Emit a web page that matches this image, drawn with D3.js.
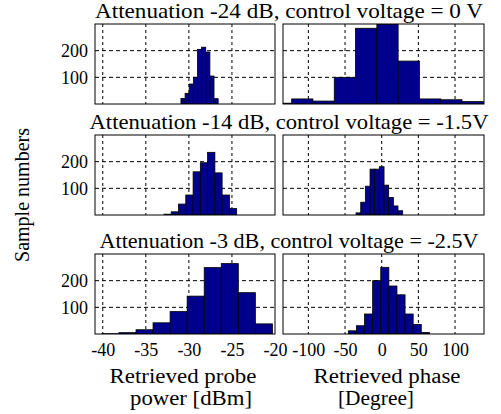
<!DOCTYPE html>
<html>
<head>
<meta charset="utf-8">
<script src="https://cdn.jsdelivr.net/npm/d3@7"></script>
</head>
<body style="margin:0">
<script>
// Histogram data: bin edges and counts per panel
const titles = [
    "Attenuation -24 dB, control voltage = 0 V",
    "Attenuation -14 dB, control voltage = -1.5V",
    "Attenuation -3 dB, control voltage = -2.5V"
];

const powerEdges1 = [-30.92, -30.44, -29.96, -29.48, -29.00, -28.52, -28.04, -27.56, -27.08, -26.60];
const powerCounts1 = [21, 40, 75, 100, 205, 213, 195, 105, 20];
const phaseEdges1 = [-151.8, -122.8, -93.8, -64.7, -35.7, -6.6, 22.4, 51.4, 80.5, 109.5, 138.6];
const phaseCounts1 = [3, 19, 11, 100, 284, 300, 161, 19, 16, 9];

const powerEdges2 = [-32.89, -32.05, -31.20, -30.36, -29.51, -28.67, -27.83, -26.98, -26.14, -25.29, -24.45];
const powerCounts2 = [3, 12, 41, 75, 162, 196, 235, 158, 75, 24];
const phaseEdges2 = [-35.0, -28.6, -22.3, -15.9, -9.6, -3.2, 3.2, 9.5, 15.9, 22.2, 28.6];
const phaseCounts2 = [8, 48, 108, 172, 172, 181, 112, 66, 34, 16];

const powerEdges3 = [-40.1, -38.12, -36.14, -34.16, -32.18, -30.2, -28.22, -26.24, -24.26, -22.28, -20.3];
const powerCounts3 = [1, 5, 16, 42, 84, 142, 249, 264, 155, 38];
const phaseEdges3 = [-45.5, -34.45, -23.4, -12.35, -1.3, 9.75, 20.8, 31.85, 42.9, 53.95, 65.0];
const phaseCounts3 = [12, 31, 75, 200, 250, 180, 147, 75, 36, 6];

const powerTicks = [-40, -35, -30, -25, -20];
const phaseTicks = [-100, -50, 0, 50, 100];
const countTicks = [100, 200];

const rows = [
    {power: [powerEdges1, powerCounts1], phase: [phaseEdges1, phaseCounts1]},
    {power: [powerEdges2, powerCounts2], phase: [phaseEdges2, phaseCounts2]},
    {power: [powerEdges3, powerCounts3], phase: [phaseEdges3, phaseCounts3]}
];

// Layout
const width = 501, height = 414;
const rowTops = [24, 135, 254];
const panelH = 80;
const barColor = "#00008c";
const serif = "Liberation Serif";

const svg = d3.select("body").append("svg")
    .attr("width", width)
    .attr("height", height);

const xPower = d3.scaleLinear().domain([-40.9, -20]).range([95, 275]);
const xPhase = d3.scaleLinear().domain([-134.6, 139.5]).range([283, 484]);

function drawPanel(g, x, edges, counts, ticks, y, id) {
    const [x0, x1] = x.range();
    const [yb, yt] = y.range();

    g.append("clipPath").attr("id", id)
      .append("rect")
        .attr("x", x0).attr("y", yt)
        .attr("width", x1 - x0).attr("height", yb - yt);

    // grid
    g.selectAll(".vgrid")
        .data(ticks.filter(t => x(t) > x0 + 1 && x(t) < x1 - 1))
        .enter().append("line")
        .attr("x1", d => x(d)).attr("x2", d => x(d))
        .attr("y1", yt).attr("y2", yb)
        .attr("stroke", "#000").attr("stroke-width", 1)
        .attr("stroke-dasharray", "3,3");

    g.selectAll(".hgrid")
        .data(countTicks)
        .enter().append("line")
        .attr("x1", x0).attr("x2", x1)
        .attr("y1", d => y(d)).attr("y2", d => y(d))
        .attr("stroke", "#000").attr("stroke-width", 1)
        .attr("stroke-dasharray", "4,3");

    // bars
    const bins = counts.map((c, i) => ({a: edges[i], b: edges[i + 1], n: c}));
    g.append("g").attr("clip-path", "url(#" + id + ")")
      .selectAll("rect")
        .data(bins)
        .enter().append("rect")
        .attr("x", d => x(d.a))
        .attr("width", d => x(d.b) - x(d.a))
        .attr("y", d => y(d.n))
        .attr("height", d => y(0) - y(d.n))
        .attr("fill", barColor)
        .attr("stroke", "#000")
        .attr("stroke-width", 0.8);

    // frame
    g.append("rect")
        .attr("x", x0).attr("y", yt)
        .attr("width", x1 - x0).attr("height", yb - yt)
        .attr("fill", "none")
        .attr("stroke", "#000").attr("stroke-width", 1);
}

rows.forEach(function(r, i) {
    const top = rowTops[i];
    const y = d3.scaleLinear().domain([0, 300]).range([top + panelH, top]);
    const g = svg.append("g");

    drawPanel(g, xPower, r.power[0], r.power[1], powerTicks, y, "clipL" + i);
    drawPanel(g, xPhase, r.phase[0], r.phase[1], phaseTicks, y, "clipR" + i);

    // y axis labels
    g.append("g")
        .attr("transform", "translate(95,0)")
        .call(d3.axisLeft(y).tickValues(countTicks).tickSize(0).tickPadding(7))
        .call(s => s.select(".domain").remove())
        .selectAll("text")
        .attr("font-size", 18);

    // panel title
    svg.append("text")
        .attr("x", 289).attr("y", top - 6)
        .attr("text-anchor", "middle")
        .attr("font-size", 21)
        .attr("textLength", [388, 399, 379][i])
        .attr("lengthAdjust", "spacingAndGlyphs")
        .text(titles[i]);
});

// x axes under the last row, plain hyphen for the minus sign
const bottom = rowTops[2] + panelH;
[[xPower, powerTicks], [xPhase, phaseTicks]].forEach(function(p) {
    svg.append("g")
        .attr("transform", "translate(0," + bottom + ")")
        .call(d3.axisBottom(p[0]).tickValues(p[1]).tickSize(0).tickPadding(9).tickFormat(d => String(d)))
        .call(s => s.select(".domain").remove())
        .selectAll("text")
        .attr("font-size", 18);
});

// axis titles
const axisTitles = [
    [183, 383, "Retrieved probe", 147],
    [191, 405, "power [dBm]", 122],
    [387, 383, "Retrieved phase", 147],
    [376, 405, "[Degree]", 76]
];
axisTitles.forEach(function(t) {
    svg.append("text").attr("x", t[0]).attr("y", t[1])
        .attr("text-anchor", "middle")
        .attr("font-size", 20)
        .attr("textLength", t[3])
        .attr("lengthAdjust", "spacingAndGlyphs")
        .text(t[2]);
});

svg.append("text")
    .attr("transform", "translate(29,195) rotate(-90)")
    .attr("text-anchor", "middle")
    .attr("font-size", 20)
    .attr("textLength", 134)
    .attr("lengthAdjust", "spacingAndGlyphs")
    .text("Sample numbers");

// serif face on every text, set last so the axis defaults do not win
svg.selectAll("text")
    .attr("font-family", serif)
    .attr("fill", "#000");
svg.selectAll("g").filter(function() { return this.hasAttribute("font-family"); })
    .attr("font-family", serif);
</script>
</body>
</html>
